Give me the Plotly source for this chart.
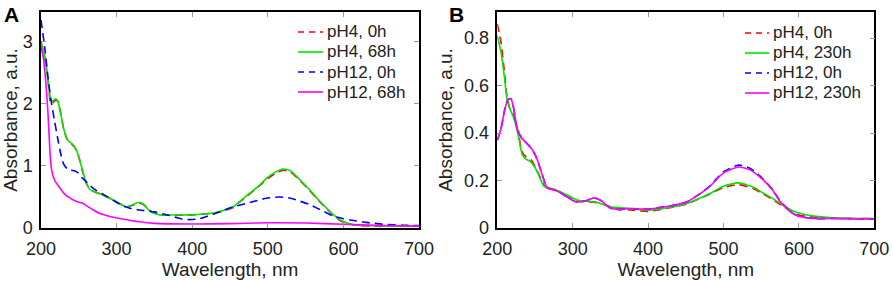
import plotly.graph_objects as go

# ---------------- Panel A data ----------------
a_red_x = [200, 205, 210, 213, 216, 219, 222, 226, 230, 235, 240, 245, 250, 255, 260, 265, 271, 280, 291, 300, 313, 322, 329, 335, 344, 357, 370, 388, 400, 420, 432, 440, 454, 463, 476, 490, 498, 510, 520, 530, 543, 555, 565, 577, 587, 597, 609, 620, 650, 700]
a_red_y = [3.0, 2.75, 2.3, 2.0, 2.02, 2.06, 2.04, 1.85, 1.6, 1.42, 1.36, 1.29, 1.14, 0.91, 0.72, 0.62, 0.58, 0.54, 0.48, 0.42, 0.34, 0.37, 0.4, 0.38, 0.28, 0.21, 0.205, 0.205, 0.21, 0.23, 0.25, 0.27, 0.33, 0.42, 0.55, 0.69, 0.78, 0.88, 0.93, 0.9, 0.76, 0.61, 0.47, 0.32, 0.2, 0.11, 0.06, 0.04, 0.03, 0.03]

a_green_x = a_red_x
a_green_y = [2.98, 2.75, 2.3, 2.06, 2.05, 2.08, 2.05, 1.85, 1.6, 1.42, 1.37, 1.3, 1.15, 0.92, 0.72, 0.62, 0.585, 0.54, 0.48, 0.42, 0.34, 0.38, 0.41, 0.39, 0.27, 0.21, 0.21, 0.21, 0.215, 0.23, 0.25, 0.28, 0.34, 0.43, 0.56, 0.7, 0.8, 0.9, 0.95, 0.92, 0.77, 0.62, 0.48, 0.33, 0.21, 0.12, 0.065, 0.045, 0.035, 0.03]

a_blue_x = [200, 205, 210, 214, 218, 222, 226, 230, 235, 240, 245, 250, 255, 262, 270, 284, 295, 306, 320, 330, 350, 370, 385, 397, 410, 432, 454, 476, 498, 515, 530, 543, 555, 565, 577, 587, 600, 609, 630, 653, 680, 700]
a_blue_y = [3.35, 2.9, 2.35, 2.0, 1.72, 1.45, 1.2, 1.03, 0.95, 0.93, 0.92, 0.88, 0.8, 0.72, 0.63, 0.53, 0.45, 0.37, 0.31, 0.29, 0.26, 0.2, 0.15, 0.135, 0.15, 0.24, 0.34, 0.41, 0.48, 0.5, 0.48, 0.43, 0.38, 0.32, 0.25, 0.19, 0.15, 0.13, 0.09, 0.06, 0.045, 0.04]

a_mag_x = [200, 203, 206, 209, 212, 214, 218, 224, 231, 240, 249, 255, 260, 268, 275, 290, 306, 330, 350, 400, 450, 500, 550, 600, 650, 700]
a_mag_y = [2.92, 2.75, 2.4, 1.9, 1.2, 0.94, 0.77, 0.66, 0.55, 0.47, 0.42, 0.4, 0.36, 0.3, 0.25, 0.19, 0.15, 0.1, 0.075, 0.065, 0.07, 0.085, 0.08, 0.06, 0.04, 0.03]

a_names = ["pH4, 0h", "pH4, 68h", "pH12, 0h", "pH12, 68h"]

# ---------------- Panel B data ----------------
b_red_x = [200, 205, 210, 213, 217, 221, 225, 229, 233, 238, 244, 250, 256, 262, 268, 276, 284, 295, 306, 320, 330, 340, 352, 365, 380, 400, 420, 450, 480, 500, 520, 540, 550, 565, 575, 590, 600, 620, 650, 700]
b_red_y = [0.86, 0.78, 0.64, 0.55, 0.5, 0.48, 0.44, 0.38, 0.32, 0.3, 0.29, 0.26, 0.22, 0.18, 0.165, 0.16, 0.15, 0.13, 0.115, 0.11, 0.108, 0.1, 0.088, 0.08, 0.075, 0.07, 0.08, 0.1, 0.14, 0.17, 0.183, 0.165, 0.148, 0.12, 0.1, 0.07, 0.055, 0.045, 0.04, 0.04]

b_green_x = b_red_x
b_green_y = [0.81, 0.74, 0.62, 0.54, 0.5, 0.47, 0.43, 0.37, 0.31, 0.29, 0.28, 0.255, 0.215, 0.175, 0.17, 0.163, 0.152, 0.135, 0.118, 0.112, 0.11, 0.1, 0.088, 0.085, 0.08, 0.075, 0.082, 0.102, 0.142, 0.176, 0.19, 0.172, 0.152, 0.125, 0.105, 0.075, 0.063, 0.05, 0.042, 0.04]

b_blue_x = [200, 205, 210, 214, 218, 222, 226, 232, 238, 244, 250, 255, 260, 266, 276, 284, 295, 305, 318, 328, 338, 349, 362, 371, 400, 450, 480, 500, 520, 535, 550, 565, 575, 590, 600, 620, 650, 700]
b_blue_y = [0.37, 0.42, 0.5, 0.54, 0.545, 0.5, 0.42, 0.38, 0.36, 0.34, 0.31, 0.27, 0.22, 0.17, 0.16, 0.148, 0.125, 0.11, 0.115, 0.127, 0.115, 0.085, 0.077, 0.082, 0.08, 0.108, 0.172, 0.236, 0.265, 0.252, 0.214, 0.162, 0.114, 0.065, 0.05, 0.04, 0.04, 0.038]

b_mag_x = b_blue_x
b_mag_y = [0.37, 0.42, 0.5, 0.54, 0.545, 0.5, 0.42, 0.38, 0.36, 0.34, 0.31, 0.27, 0.22, 0.17, 0.16, 0.148, 0.125, 0.11, 0.115, 0.127, 0.115, 0.085, 0.077, 0.082, 0.08, 0.108, 0.17, 0.232, 0.257, 0.245, 0.21, 0.16, 0.112, 0.065, 0.05, 0.04, 0.04, 0.038]

b_names = ["pH4, 0h", "pH4, 230h", "pH12, 0h", "pH12, 230h"]

x_ticks = [200, 300, 400, 500, 600, 700]
a_yticks = [0, 1, 2, 3]
b_yticks = [0, 0.2, 0.4, 0.6, 0.8]

colors = ["#ff0000", "#00e600", "#0000ff", "#ff00ff"]
dashes = ["8px,5px", "solid", "8px,5px", "solid"]

FONT = "Liberation Sans, Arial, Helvetica, sans-serif"
TXT = "#222222"
W, H = 893, 281

fig = go.Figure()

a_series = [(a_red_x, a_red_y), (a_green_x, a_green_y), (a_blue_x, a_blue_y), (a_mag_x, a_mag_y)]
for (xs, ys), name, c, d in zip(a_series, a_names, colors, dashes):
    fig.add_trace(go.Scatter(x=xs, y=ys, name=name, mode="lines", showlegend=False,
                             line=dict(color=c, width=1.6, dash=d, shape="spline", smoothing=0.6),
                             xaxis="x", yaxis="y"))

b_series = [(b_red_x, b_red_y), (b_green_x, b_green_y), (b_blue_x, b_blue_y), (b_mag_x, b_mag_y)]
for (xs, ys), name, c, d in zip(b_series, b_names, colors, dashes):
    fig.add_trace(go.Scatter(x=xs, y=ys, name=name, mode="lines", showlegend=False,
                             line=dict(color=c, width=1.6, dash=d, shape="spline", smoothing=0.6),
                             xaxis="x2", yaxis="y2"))

# manual legends (line sample + text), positioned in paper pixels
shapes = []
annotations = []
def add_legend(names, x_line0, x_line1, x_text, y_rows):
    for name, c, d, yr in zip(names, colors, dashes, y_rows):
        yp = 1 - yr / H
        shapes.append(dict(type="line", xref="paper", yref="paper",
                           x0=x_line0 / W, x1=x_line1 / W, y0=yp, y1=yp,
                           line=dict(color=c, width=1.6,
                                     dash=("solid" if d == "solid" else "6px,5px"))))
        annotations.append(dict(text=name, x=x_text / W, y=yp, xref="paper", yref="paper",
                                xanchor="left", yanchor="middle", showarrow=False,
                                font=dict(family=FONT, size=17, color=TXT)))

add_legend(a_names, 298, 323, 325, [32, 52, 72, 92])
add_legend(b_names, 745, 769, 771, [33, 53, 73, 93])

annotations += [
    dict(text="<b>A</b>", x=2 / W, y=1 - 1 / H, xref="paper", yref="paper",
         xanchor="left", yanchor="top", showarrow=False,
         font=dict(family=FONT, size=21, color="black")),
    dict(text="<b>B</b>", x=447 / W, y=1 - 1 / H, xref="paper", yref="paper",
         xanchor="left", yanchor="top", showarrow=False,
         font=dict(family=FONT, size=21, color="black")),
]

axcommon = dict(showline=True, linecolor="black", linewidth=1.5, mirror="ticks",
                ticks="inside", ticklen=5, tickwidth=1, tickcolor="#999999",
                showgrid=False, zeroline=False, automargin=False,
                tickfont=dict(family=FONT, size=18, color=TXT),
                title_font=dict(family=FONT, size=19, color=TXT))

ydom = [(281 - 228) / H, (281 - 12) / H]

fig.update_layout(
    width=W, height=H,
    margin=dict(l=0, r=0, t=0, b=0),
    paper_bgcolor="white", plot_bgcolor="white",
    font=dict(family=FONT, color=TXT),
    showlegend=False,
    xaxis=dict(domain=[41 / W, 419 / W], range=[200, 700], tickvals=x_ticks,
               title=dict(text="Wavelength, nm", standoff=2), anchor="y",
               ticklabelstandoff=4, **axcommon),
    yaxis=dict(domain=ydom, range=[0, 3.48], tickvals=a_yticks,
               title=dict(text="Absorbance, a.u.", standoff=6), anchor="x",
               ticklabelstandoff=3, **axcommon),
    xaxis2=dict(domain=[497.3 / W, 874.3 / W], range=[200, 700], tickvals=x_ticks,
                title=dict(text="Wavelength, nm", standoff=2), anchor="y2",
                ticklabelstandoff=4, **axcommon),
    yaxis2=dict(domain=ydom, range=[0, 0.91], tickvals=b_yticks,
                title=dict(text="Absorbance, a.u.", standoff=6), anchor="x2",
                ticklabelstandoff=3, **axcommon),
    shapes=shapes,
    annotations=annotations,
)

fig.write_html("out.html", config={"displayModeBar": False},
               post_script="document.body.style.margin='0';document.body.style.overflow='hidden';")
